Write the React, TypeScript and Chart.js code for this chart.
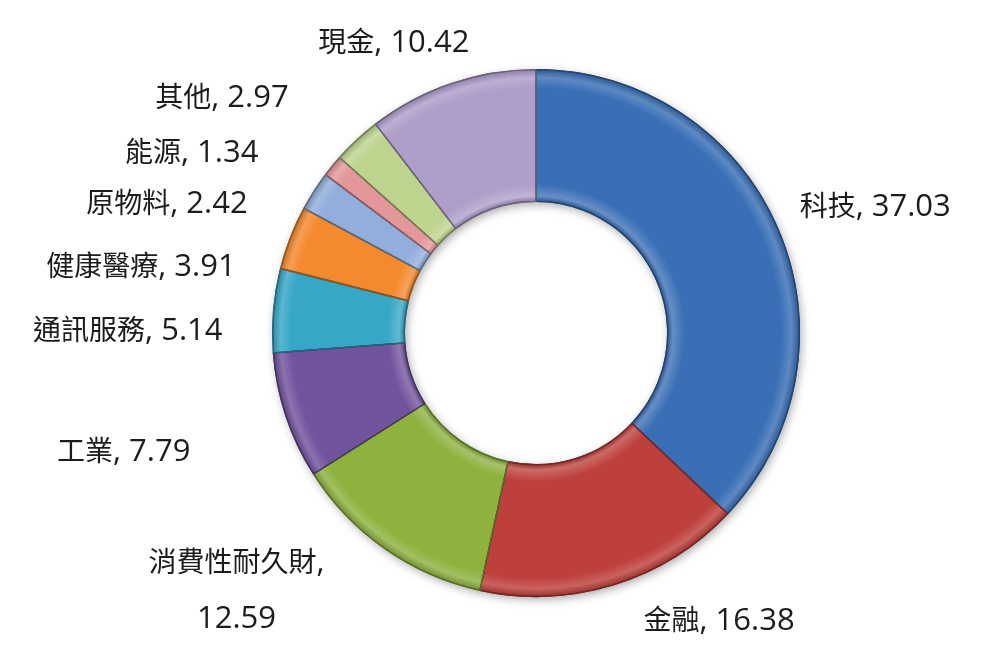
import React, { useEffect, useRef } from "react";
import { Chart, registerables } from "chart.js";

Chart.register(...registerables);

// ---- data ----
const categories = ["科技", "金融", "消費性耐久財", "工業", "通訊服務", "健康醫療", "原物料", "能源", "其他", "現金"];
const weights = [37.03, 16.38, 12.59, 7.79, 5.14, 3.91, 2.42, 1.34, 2.97, 10.42];

// ---- style ----
const sliceColors = ["#3A6FB6", "#BE403C", "#8DB23E", "#72539E", "#36A7C7", "#F48A2E", "#92AEDC", "#E4979A", "#BDD48E", "#AE9ECA"];
// label layout: angular turn (deg, clockwise) from slice middle and gap (px) beyond the ring
const labelTurn = [2.5, -15.5, 14.6, 2.6, -4.2, -11.3, -12.9, -11.4, -10, -7.1];
const labelGap = [24, 23, 36, 97, 50, 42, 48, 61, 69, 17];

const CJK_FONT = "28px 'Noto Sans CJK TC'";
const LATIN_FONT = "31px 'Open Sans', 'Noto Sans CJK TC'";
const LINE_H = 28;
const LINE_STEP = 56;

function darken(hex: string, f: number) {
  const n = parseInt(hex.slice(1), 16);
  const r = Math.round(((n >> 16) & 255) * f);
  const g = Math.round(((n >> 8) & 255) * f);
  const b = Math.round((n & 255) * f);
  return `rgb(${r},${g},${b})`;
}

function runsOf(line: string) {
  const out: { t: string; cjk: boolean }[] = [];
  for (const ch of line) {
    const cjk = /[\u2E80-\u9FFF\uF900-\uFAFF\uFF00-\uFFEF]/.test(ch);
    if (out.length && out[out.length - 1].cjk === cjk) out[out.length - 1].t += ch;
    else out.push({ t: ch, cjk });
  }
  return out;
}
function measureLine(ctx: CanvasRenderingContext2D, line: string) {
  let w = 0;
  for (const r of runsOf(line)) {
    ctx.font = r.cjk ? CJK_FONT : LATIN_FONT;
    w += ctx.measureText(r.t).width;
  }
  return w;
}
function drawLine(ctx: CanvasRenderingContext2D, line: string, x: number, baseline: number) {
  let cx = x;
  for (const r of runsOf(line)) {
    ctx.font = r.cjk ? CJK_FONT : LATIN_FONT;
    ctx.fillText(r.t, cx, baseline);
    cx += ctx.measureText(r.t).width;
  }
}

const ringShadow = {
  id: "ringShadow",
  beforeDatasetsDraw(chart: any) {
    const meta = chart.getDatasetMeta(0);
    const el = meta.data[0];
    if (!el) return;
    const { x, y, innerRadius, outerRadius } = el.getProps(["x", "y", "innerRadius", "outerRadius"], true);
    const ctx = chart.ctx as CanvasRenderingContext2D;
    ctx.save();
    ctx.shadowColor = "rgba(0,0,0,0.35)";
    ctx.shadowBlur = 10;
    ctx.shadowOffsetX = 2;
    ctx.shadowOffsetY = 3;
    ctx.beginPath();
    ctx.arc(x, y, outerRadius, 0, Math.PI * 2);
    ctx.arc(x, y, innerRadius, Math.PI * 2, 0, true);
    ctx.closePath();
    ctx.fillStyle = "#ffffff";
    ctx.fill();
    ctx.restore();
  },
};

const bevel = {
  id: "bevel",
  afterDatasetsDraw(chart: any) {
    const meta = chart.getDatasetMeta(0);
    const ctx = chart.ctx as CanvasRenderingContext2D;
    meta.data.forEach((el: any, i: number) => {
      const { x, y, startAngle, endAngle, innerRadius, outerRadius } = el.getProps(
        ["x", "y", "startAngle", "endAngle", "innerRadius", "outerRadius"],
        true
      );
      ctx.save();
      ctx.beginPath();
      ctx.arc(x, y, outerRadius, startAngle, endAngle);
      ctx.arc(x, y, innerRadius, endAngle, startAngle, true);
      ctx.closePath();
      ctx.clip();
      const g = ctx.createRadialGradient(x, y, innerRadius, x, y, outerRadius);
      g.addColorStop(0, "rgba(0,0,0,0.22)");
      g.addColorStop(0.04, "rgba(255,255,255,0.22)");
      g.addColorStop(0.13, "rgba(255,255,255,0)");
      g.addColorStop(0.86, "rgba(255,255,255,0)");
      g.addColorStop(0.94, "rgba(255,255,255,0.18)");
      g.addColorStop(1, "rgba(0,0,0,0.18)");
      ctx.fillStyle = g;
      ctx.fillRect(x - outerRadius, y - outerRadius, outerRadius * 2, outerRadius * 2);
      ctx.restore();
      ctx.save();
      ctx.beginPath();
      ctx.arc(x, y, outerRadius, startAngle, endAngle);
      ctx.arc(x, y, innerRadius, endAngle, startAngle, true);
      ctx.closePath();
      ctx.lineWidth = 1.3;
      ctx.strokeStyle = darken(sliceColors[i], 0.62);
      ctx.lineJoin = "round";
      ctx.stroke();
      ctx.restore();
    });
  },
};

const outsideLabels = {
  id: "outsideLabels",
  afterDraw(chart: any) {
    const meta = chart.getDatasetMeta(0);
    const ctx = chart.ctx as CanvasRenderingContext2D;
    ctx.save();
    ctx.fillStyle = "#1c1c1c";
    ctx.textBaseline = "alphabetic";
    ctx.textAlign = "left";
    meta.data.forEach((el: any, i: number) => {
      const { x, y, startAngle, endAngle, outerRadius } = el.getProps(
        ["x", "y", "startAngle", "endAngle", "outerRadius"],
        true
      );
      const value = weights[i].toFixed(2);
      const full = `${categories[i]}, ${value}`;
      const lines = measureLine(ctx, full) > 220 ? [`${categories[i]},`, value] : [full];
      const widths = lines.map((l) => measureLine(ctx, l));
      const w = Math.max(...widths);
      const h = LINE_H + (lines.length - 1) * LINE_STEP;
      const a = (startAngle + endAngle) / 2 + (labelTurn[i] * Math.PI) / 180;
      const dx = Math.cos(a);
      const dy = Math.sin(a);
      const dist = outerRadius + labelGap[i] + Math.abs(dx) * (w / 2) + Math.abs(dy) * (h / 2);
      const cx = x + dx * dist;
      const cy = y + dy * dist;
      lines.forEach((line, k) => {
        const lc = cy - ((lines.length - 1) * LINE_STEP) / 2 + k * LINE_STEP;
        drawLine(ctx, line, cx - widths[k] / 2, lc + 12);
      });
    });
    ctx.restore();
  },
};

export default function App() {
  const ref = useRef<HTMLCanvasElement | null>(null);
  useEffect(() => {
    if (!ref.current) return;
    const chart = new Chart(ref.current, {
      type: "doughnut",
      data: {
        labels: categories,
        datasets: [
          {
            data: weights,
            backgroundColor: sliceColors,
            borderColor: sliceColors.map((c) => darken(c, 0.62)),
            borderWidth: 1.3,
          },
        ],
      },
      options: {
        animation: false,
        responsive: true,
        maintainAspectRatio: false,
        cutout: "50%",
        layout: { padding: { left: 272, right: 200, top: 69, bottom: 65 } },
        plugins: {
          legend: { display: false },
          tooltip: { enabled: false },
        },
      },
      plugins: [ringShadow, bevel, outsideLabels],
    });
    if ((document as any).fonts && (document as any).fonts.ready) {
      (document as any).fonts.ready.then(() => chart.draw());
    }
    return () => chart.destroy();
  }, []);
  return (
    <div style={{ position: "fixed", left: 0, top: 0, width: 1000, height: 662, background: "#ffffff" }}>
      <canvas ref={ref} />
    </div>
  );
}
